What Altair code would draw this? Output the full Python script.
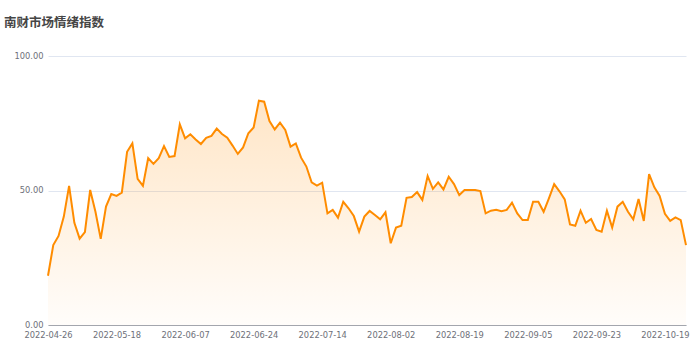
import altair as alt
import pandas as pd

dates = [
    "2022-04-26", "2022-04-27", "2022-04-28", "2022-04-29", "2022-05-05", "2022-05-06",
    "2022-05-09", "2022-05-10", "2022-05-11", "2022-05-12", "2022-05-13", "2022-05-16",
    "2022-05-17", "2022-05-18", "2022-05-19", "2022-05-20", "2022-05-23", "2022-05-24",
    "2022-05-25", "2022-05-26", "2022-05-27", "2022-05-30", "2022-05-31", "2022-06-01",
    "2022-06-02", "2022-06-06", "2022-06-07", "2022-06-08", "2022-06-09", "2022-06-10",
    "2022-06-13", "2022-06-14", "2022-06-15", "2022-06-16", "2022-06-17", "2022-06-20",
    "2022-06-21", "2022-06-22", "2022-06-23", "2022-06-24", "2022-06-27", "2022-06-28",
    "2022-06-29", "2022-06-30", "2022-07-01", "2022-07-04", "2022-07-05", "2022-07-07",
    "2022-07-08", "2022-07-11", "2022-07-12", "2022-07-13", "2022-07-14", "2022-07-15",
    "2022-07-18", "2022-07-19", "2022-07-20", "2022-07-21", "2022-07-22", "2022-07-25",
    "2022-07-26", "2022-07-27", "2022-07-28", "2022-07-29", "2022-08-01", "2022-08-02",
    "2022-08-03", "2022-08-04", "2022-08-05", "2022-08-08", "2022-08-09", "2022-08-10",
    "2022-08-11", "2022-08-12", "2022-08-15", "2022-08-16", "2022-08-17", "2022-08-18",
    "2022-08-19", "2022-08-22", "2022-08-23", "2022-08-24", "2022-08-25", "2022-08-26",
    "2022-08-27", "2022-08-29", "2022-08-30", "2022-08-31", "2022-09-01", "2022-09-02",
    "2022-09-03", "2022-09-05", "2022-09-06", "2022-09-07", "2022-09-08", "2022-09-09",
    "2022-09-13", "2022-09-14", "2022-09-15", "2022-09-16", "2022-09-19", "2022-09-20",
    "2022-09-21", "2022-09-22", "2022-09-23", "2022-09-26", "2022-09-27", "2022-09-28",
    "2022-09-29", "2022-09-30", "2022-10-10", "2022-10-11", "2022-10-12", "2022-10-13",
    "2022-10-14", "2022-10-17", "2022-10-18", "2022-10-19", "2022-10-20", "2022-10-21",
    "2022-10-24", "2022-10-25",
]

values = [
    18.3, 29.7, 33.1, 40.3, 51.7, 38.0, 32.1, 34.5, 50.2, 42.1,
    32.0, 44.0, 48.7, 48.0, 49.2, 64.4, 67.5, 54.3, 51.7, 62.0,
    59.9, 62.0, 66.5, 62.5, 62.8, 74.6, 69.4, 70.9, 69.0, 67.3,
    69.6, 70.3, 73.0, 71.0, 69.6, 66.7, 63.6, 66.0, 71.3, 73.4,
    83.4, 83.0, 75.8, 72.7, 75.2, 72.5, 66.3, 67.5, 62.2, 58.9,
    53.0, 51.8, 52.9, 41.5, 42.8, 39.9, 45.8, 43.4, 40.5, 34.7,
    40.3, 42.4, 40.9, 39.3, 41.9, 30.4, 36.2, 36.9, 47.3, 47.6,
    49.4, 46.5, 55.4, 50.6, 53.0, 50.4, 55.1, 52.4, 48.3, 50.2,
    50.2, 50.2, 49.8, 41.5, 42.5, 42.8, 42.3, 42.8, 45.5, 41.5,
    39.0, 39.0, 45.8, 45.8, 42.1, 47.1, 52.4, 49.7, 46.7, 37.4,
    36.9, 42.5, 38.0, 39.4, 35.3, 34.7, 42.5, 36.2, 44.0, 45.8,
    42.1, 39.3, 46.8, 38.7, 56.1, 51.2, 48.0, 41.3, 38.7, 40.0,
    39.0, 29.7,
]

tick_dates = [
    "2022-04-26", "2022-05-18", "2022-06-07", "2022-06-24", "2022-07-14",
    "2022-08-02", "2022-08-19", "2022-09-05", "2022-09-23", "2022-10-19",
]

title_text = ["南财市场情绪指数"]

df = pd.DataFrame({"date": dates, "value": values})

x_enc = alt.X(
    "date:O",
    sort=None,
    scale=alt.Scale(type="point", padding=0),
    axis=alt.Axis(
        values=tick_dates,
        title=None,
        labelAngle=0,
        ticks=False,
        grid=False,
        labelOverlap=False,
        domainColor="#A3A6AD",
        domainWidth=1,
        labelColor="#6E7079",
        labelFont="DejaVu Sans",
        labelFontSize=8.3,
        labelPadding=5,
    ),
)

y_enc = alt.Y(
    "value:Q",
    scale=alt.Scale(domain=[0, 100], nice=False),
    axis=alt.Axis(
        values=[0, 50, 100],
        format=".2f",
        title=None,
        ticks=False,
        domain=False,
        gridColor="#E0E6F1",
        gridWidth=1,
        labelColor="#6E7079",
        labelFont="DejaVu Sans",
        labelFontSize=8.3,
        labelPadding=5,
    ),
)

base = alt.Chart(df).encode(x=x_enc, y=y_enc)

area = base.mark_area(
    color=alt.Gradient(
        gradient="linear",
        stops=[
            alt.GradientStop(color="rgba(255,140,0,0.22)", offset=0),
            alt.GradientStop(color="rgba(255,140,0,0.02)", offset=1),
        ],
        x1=1, x2=1, y1=0, y2=1,
    )
)

line = base.mark_line(color="#FF8C00", strokeWidth=2)

title = alt.Chart(pd.DataFrame({"t": title_text})).mark_text(
    align="left",
    baseline="alphabetic",
    font="Noto Sans CJK SC",
    fontSize=12.5,
    fontWeight="bold",
    color="#464646",
).encode(text="t:N", x=alt.value(-44), y=alt.value(-29))

chart = (
    alt.layer(area, line, title)
    .properties(
        width=638,
        height=269,
        autosize=alt.AutoSizeParams(type="none"),
        padding={"left": 48, "top": 56, "right": 14, "bottom": 25},
        background="white",
    )
    .configure_view(stroke=None)
)

chart.save("out.html", embed_options={"renderer": "svg", "actions": False})
